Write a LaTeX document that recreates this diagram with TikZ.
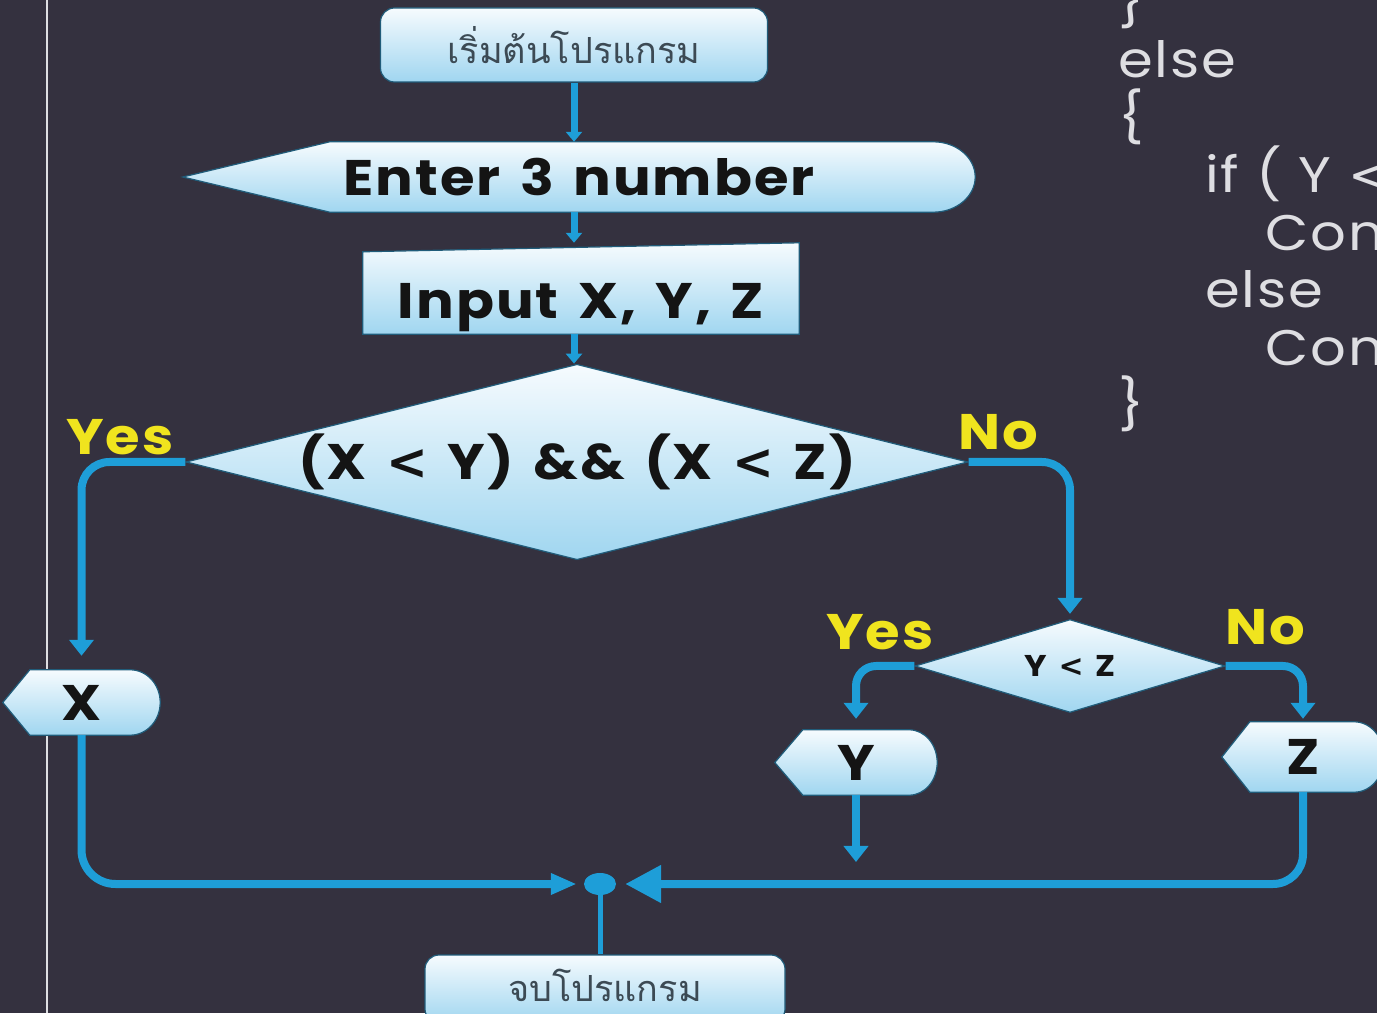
\documentclass[tikz,border=0pt]{standalone}
\usepackage{fontspec}
\setmainfont{Poppins}[FakeStretch=1.12, LetterSpace=4, WordSpace=1.4]
\newfontfamily\codefont{Poppins}[FakeStretch=1.12, LetterSpace=4]
\newfontfamily\thaifont[Script=Thai]{Loma}
\newfontfamily\symfont{DejaVu Sans}
\usetikzlibrary{calc,shapes.geometric,arrows.meta,backgrounds}

\definecolor{bgc}{RGB}{52,49,63}
\definecolor{flowc}{RGB}{30,158,216}
\definecolor{edgec}{RGB}{32,92,122}
\definecolor{boxtop}{RGB}{246,251,254}
\definecolor{boxbot}{RGB}{160,214,240}
\definecolor{labelc}{RGB}{240,228,30}
\definecolor{codec}{RGB}{222,222,226}
\definecolor{thaic}{RGB}{60,74,84}

\newcommand\lessthan{{\symfont <}}

\tikzset{
  shapebox/.style={draw=edgec, line width=1.2pt, top color=boxtop, bottom color=boxbot},
  holder/.style={rectangle, inner sep=0pt, text=black!92,
    font=\bfseries\fontsize{50}{60}\selectfont},
  termbox/.style={shapebox, rectangle, rounded corners=14pt, inner sep=0pt,
    text=thaic, font=\thaifont\fontsize{36}{44}\selectfont},
  decision/.style={shapebox, diamond, inner sep=0pt, shape aspect=4, text=black!92,
    font=\bfseries\fontsize{50}{60}\selectfont},
  answer/.style={text=labelc, inner sep=0pt, font=\bfseries\fontsize{50}{60}\selectfont},
  codeline/.style={text=codec, inner sep=0pt, anchor=base west,
    font=\codefont\fontsize{50}{60}\selectfont},
  flow/.style={draw=flowc, line width=8pt},
  tipS/.tip={Triangle[width=16pt,length=10pt]},
  tipM/.tip={Triangle[width=24pt,length=16pt]},
  tipL/.tip={Triangle[width=20pt,length=26pt]},
  tipXL/.tip={Triangle[width=36pt,length=36pt]},
}

% display symbol: pointed left end, rounded right end
\newcommand\dispshape[3]{%
  \path[shapebox] let \p1=(#1.north east), \p2=(#1.south west), \n1={(\y1-\y2)/2} in
    (\x2,\y2+\n1) -- (\x2+#2,\y1) -- (\x1-#3,\y1)
    arc[start angle=90, end angle=-90, x radius=#3, y radius=\n1]
    -- (\x2+#2,\y2) -- cycle;}

\begin{document}
\begin{tikzpicture}[x=1pt, y=1pt]
\useasboundingbox (0,0) rectangle (1377,1013);
\begin{pgfonlayer}{background}
  \fill[bgc] (0,0) rectangle (1377,1013);
  \draw[codec, line width=2.5pt] (47,0) -- (47,1013);
\end{pgfonlayer}

% flowchart nodes
\node[termbox, minimum width=387pt, minimum height=74pt] (start) at (574,968) {เริ่มต้นโปรแกรม};
\node[holder, minimum width=792pt, minimum height=70pt] (enter) at (579,836) {Enter 3 number};
\node[holder, minimum width=436pt, minimum height=91pt, text height=60pt, text depth=0pt]
  (input) at (581,724.5) {Input X, Y, Z};
\node[decision, minimum width=768pt, minimum height=181pt] (d1) at (577,551)
  {(X \lessthan{} Y) \&\& (X \lessthan{} Z)};
\node[holder, minimum width=157pt, minimum height=65pt] (xo) at (81.5,310.5) {X};
\node[decision, minimum width=310pt, minimum height=93pt,
      font=\bfseries\fontsize{30}{36}\selectfont] (d2) at (1070,347) {Y \lessthan{} Z};
\node[holder, minimum width=162pt, minimum height=65pt] (yo) at (856,250.5) {Y};
\node[holder, minimum width=162pt, minimum height=70pt] (zo) at (1303,256) {Z};
\node[ellipse, fill=flowc, minimum width=32pt, minimum height=22pt, inner sep=0pt] (dot) at (600,129) {};
\node[termbox, minimum width=360pt, minimum height=68pt, text height=30pt, text depth=6pt]
  (endb) at (605,24) {จบโปรแกรม};
\coordinate (yend) at (856,151);

% shapes behind the texts
\begin{pgfonlayer}{background}
  \dispshape{enter}{147pt}{42pt}
  \path[shapebox] (input.south west) -- ([yshift=-9pt]input.north west)
    -- (input.north east) -- (input.south east) -- cycle;
  \dispshape{xo}{27pt}{30pt}
  \dispshape{yo}{28pt}{28pt}
  \dispshape{zo}{28pt}{30pt}
\end{pgfonlayer}

% branch labels
\node[answer] (yes1) at (120,576) {Yes};
\node[answer] (no1) at (998,581) {No};
\node[answer] (yes2) at (880,381) {Yes};
\node[answer] (no2) at (1265,386) {No};

% connectors
\draw[flow, line width=7pt, -{tipS}] (start.south) -- (start.south |- enter.north);
\draw[flow, line width=7pt, -{tipS}] (enter.south -| start.south) -- (start.south |- input.north);
\draw[flow, line width=7pt, -{tipS}] (input.south -| start.south) -- (start.south |- d1.north);
\draw[flow, rounded corners=28pt, -{tipM}, shorten >=14pt] (d1.west) -| (xo.north);
\draw[flow, rounded corners=28pt, -{tipM}, shorten >=5pt] (d1.east) -| (d2.north);
\draw[flow, rounded corners=20pt, -{tipM}, shorten >=11pt] (d2.west) -| (yo.north);
\draw[flow, rounded corners=20pt, -{tipM}, shorten >=3pt] (d2.east) -| (zo.north);
\draw[flow, -{tipM}] (yo.south) -- (yend);
\draw[flow, rounded corners=34pt, -{tipL}, shorten >=7pt] (xo.south) |- (dot.west);
\draw[flow, rounded corners=30pt, -{tipXL}, shorten >=9pt] (zo.south) |- (dot.east);
\draw[flow, line width=5pt] (dot.south) -- (dot.south |- endb.north);

% program text at the right
\node[codeline] (c1) at (1118,993) {\}};
\node[codeline] (c2) at (1118,935) {else};
\node[codeline] (c3) at (1118,877.5) {\{};
\node[codeline] (c4) at (1205,820) {if ( Y \lessthan};
\node[codeline] (c5) at (1265,762.5) {Con};
\node[codeline] (c6) at (1205,705) {else};
\node[codeline] (c7) at (1265,647.5) {Con};
\node[codeline] (c8) at (1118,590) {\}};
\end{tikzpicture}
\end{document}
